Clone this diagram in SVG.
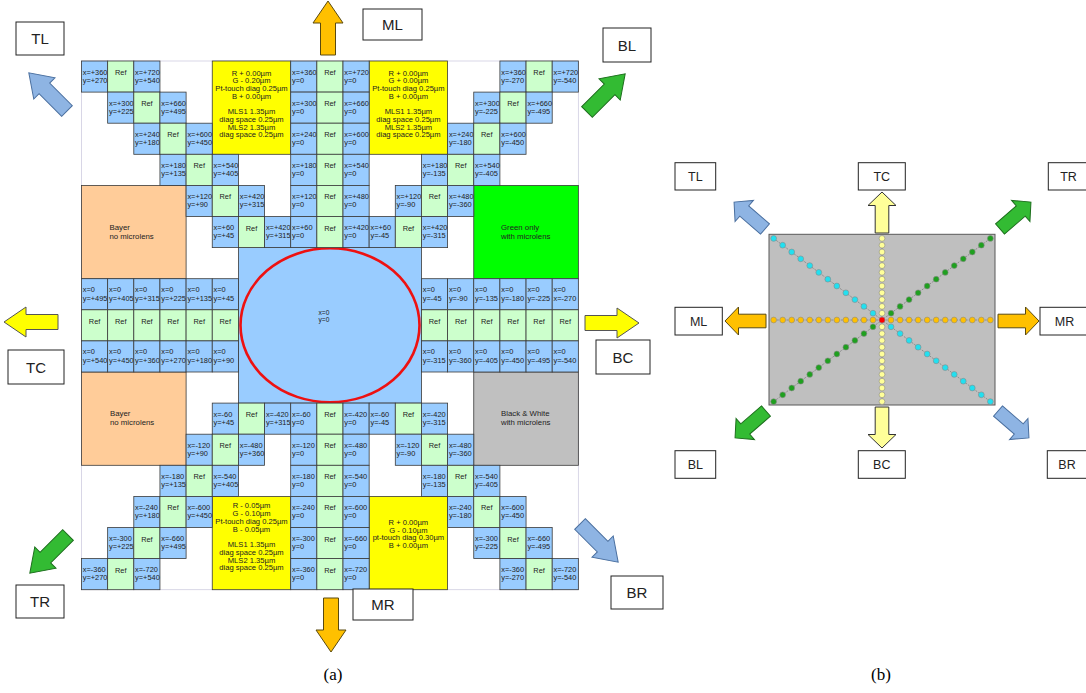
<svg xmlns="http://www.w3.org/2000/svg" xmlns:xlink="http://www.w3.org/1999/xlink" width="1086" height="693" viewBox="0 0 1086 693">
<style>
.b{fill:#99CCFF;stroke:#3a3a3a;stroke-width:0.8}
.g{fill:#CCFFCC;stroke:#3a3a3a;stroke-width:0.8}
.y{fill:#FFFF00;stroke:#3a3a3a;stroke-width:0.8}
.o{fill:#FFCC99;stroke:#3a3a3a;stroke-width:0.8}
.gr{fill:#00FF00;stroke:#3a3a3a;stroke-width:0.8}
.gy{fill:#C0C0C0;stroke:#3a3a3a;stroke-width:0.8}
.t{font-family:"Liberation Sans",Arial,sans-serif;font-size:7.4px;fill:#222}
.r{font-family:"Liberation Sans",Arial,sans-serif;font-size:7.4px;fill:#222;text-anchor:middle}
.yt{font-family:"Liberation Sans",Arial,sans-serif;font-size:7.6px;fill:#222;text-anchor:middle}
.lb{fill:#fff;stroke:#222;stroke-width:1}
.lt{font-family:"Liberation Sans",Arial,sans-serif;font-size:15px;fill:#222;text-anchor:middle}
.lt2{font-family:"Liberation Sans",Arial,sans-serif;font-size:12.5px;fill:#222;text-anchor:middle}
.cap{font-family:"Liberation Serif","Times New Roman",serif;font-size:17px;fill:#000;text-anchor:middle}
.aB{fill:#8EB4E3;stroke:#4a6f9f;stroke-width:1}
.aG{fill:#33BB33;stroke:#1d6e1d;stroke-width:1}
.aO{fill:#FFC000;stroke:#5a4a10;stroke-width:1}
.aY{fill:#FFFF00;stroke:#555;stroke-width:1}
.aPY{fill:#FFFF99;stroke:#333;stroke-width:1}
.dl{stroke:#808080;stroke-width:0.8;stroke-dasharray:2 1.2;fill:none}
.dO{fill:#FFC000;stroke:#8a8a8a;stroke-width:0.6}
.dY{fill:#FFFF99;stroke:#8a8a8a;stroke-width:0.6}
.dC{fill:#22E0F0;stroke:#8a8a8a;stroke-width:0.6}
.dG{fill:#1FA01F;stroke:#8a8a8a;stroke-width:0.6}
</style>
<defs>
<polygon id="arA" points="0,-7.5 32,-7.5 32,-15 54,0 32,15 32,7.5 0,7.5"/>
<polygon id="arB" points="0,-6.8 27.5,-6.8 27.5,-14 41,0 27.5,14 27.5,6.8 0,6.8"/>
</defs>
<rect width="1086" height="693" fill="#fff"/>
<rect x="81.5" y="61" width="496.85" height="528.7" fill="none" stroke="#cfcde0" stroke-width="0.8"/>

<!-- big blocks -->
<g id="yellowTL"><rect class="y" x="212.25" y="61" width="78.45" height="93.3"/>
<text class="yt"><tspan x="251.5" y="75.7">R + 0.00µm</tspan><tspan x="251.5" y="83.4">G - 0.20µm</tspan><tspan x="251.5" y="91.1">Pt-touch diag 0.25µm</tspan><tspan x="251.5" y="98.8">B + 0.00µm</tspan><tspan x="251.5" y="114.2">MLS1 1.35µm</tspan><tspan x="251.5" y="121.9">diag space  0.25µm</tspan><tspan x="251.5" y="129.6">MLS2 1.35µm</tspan><tspan x="251.5" y="137.3">diag space  0.25µm</tspan></text></g>
<g id="yellowTR"><rect class="y" x="369.15" y="61" width="78.45" height="93.3"/>
<text class="yt"><tspan x="408.4" y="75.7">R + 0.00µm</tspan><tspan x="408.4" y="83.4">G + 0.00µm</tspan><tspan x="408.4" y="91.1">Pt-touch diag 0.25µm</tspan><tspan x="408.4" y="98.8">B + 0.00µm</tspan><tspan x="408.4" y="114.2">MLS1 1.35µm</tspan><tspan x="408.4" y="121.9">diag space  0.25µm</tspan><tspan x="408.4" y="129.6">MLS2 1.35µm</tspan><tspan x="408.4" y="137.3">diag space  0.25µm</tspan></text></g>
<g id="yellowBL"><rect class="y" x="212.25" y="496.4" width="78.45" height="93.3"/>
<text class="yt"><tspan x="251.5" y="508.4">R - 0.05µm</tspan><tspan x="251.5" y="516.2">G - 0.10µm</tspan><tspan x="251.5" y="524">Pt-touch diag 0.25µm</tspan><tspan x="251.5" y="531.8">B - 0.05µm</tspan><tspan x="251.5" y="547">MLS1 1.35µm</tspan><tspan x="251.5" y="554.8">diag space  0.25µm</tspan><tspan x="251.5" y="562.6">MLS2 1.35µm</tspan><tspan x="251.5" y="570.4">diag space  0.25µm</tspan></text></g>
<g id="yellowBR"><rect class="y" x="369.15" y="496.4" width="78.45" height="93.3"/>
<text class="yt"><tspan x="408.4" y="524.8">R + 0.00µm</tspan><tspan x="408.4" y="532.5">G - 0.10µm</tspan><tspan x="408.4" y="540.2">pt-touch diag 0.30µm</tspan><tspan x="408.4" y="547.9">B + 0.00µm</tspan></text></g>
<g id="bayerTop"><rect class="o" x="81.5" y="185.4" width="104.6" height="93.3"/>
<text class="t" style="font-size:7.8px"><tspan x="109.5" y="229.5">Bayer</tspan><tspan x="109.5" y="239">no microlens</tspan></text></g>
<g id="greenOnly"><rect class="gr" x="473.75" y="185.4" width="104.6" height="93.3"/>
<text class="t" style="font-size:7.8px"><tspan x="501" y="229.5">Green only</tspan><tspan x="501" y="239">with microlens</tspan></text></g>
<g id="bayerBottom"><rect class="o" x="81.5" y="372" width="104.6" height="93.3"/>
<text class="t" style="font-size:7.8px"><tspan x="110" y="415.5">Bayer</tspan><tspan x="110" y="424.5">no microlens</tspan></text></g>
<g id="bwBlock"><rect class="gy" x="473.75" y="372" width="104.6" height="93.3"/>
<text class="t" style="font-size:7.8px"><tspan x="501" y="415.5">Black &amp; White</tspan><tspan x="501" y="424.5">with microlens</tspan></text></g>
<g id="center"><rect class="b" x="238.4" y="247.6" width="183.05" height="155.5"/>
<ellipse cx="330" cy="325.3" rx="89.5" ry="77" fill="none" stroke="#EE1111" stroke-width="2.6"/>
<text class="t" style="font-size:6.6px"><tspan x="318.5" y="314.5">x=0</tspan><tspan x="318.5" y="322">y=0</tspan></text></g>

<!-- row 0 -->
<g id="r0c0"><rect class="b" x="81.5" y="61" width="26.15" height="31.1"/><text class="t"><tspan x="82.8" y="74.5">x=+360</tspan><tspan x="82.8" y="82.8">y=+270</tspan></text></g>
<g id="r0c1"><rect class="g" x="107.65" y="61" width="26.15" height="31.1"/><text class="r" x="120.7" y="75">Ref</text></g>
<g id="r0c2"><rect class="b" x="133.8" y="61" width="26.15" height="31.1"/><text class="t"><tspan x="135.1" y="74.5">x=+720</tspan><tspan x="135.1" y="82.8">y=+540</tspan></text></g>
<g id="r0c8"><rect class="b" x="290.7" y="61" width="26.15" height="31.1"/><text class="t"><tspan x="292" y="74.5">x=+360</tspan><tspan x="292" y="82.8">y=0</tspan></text></g>
<g id="r0c9"><rect class="g" x="316.85" y="61" width="26.15" height="31.1"/><text class="r" x="329.9" y="75">Ref</text></g>
<g id="r0c10"><rect class="b" x="343" y="61" width="26.15" height="31.1"/><text class="t"><tspan x="344.3" y="74.5">x=+720</tspan><tspan x="344.3" y="82.8">y=0</tspan></text></g>
<g id="r0c16"><rect class="b" x="499.9" y="61" width="26.15" height="31.1"/><text class="t"><tspan x="501.2" y="74.5">x=+360</tspan><tspan x="501.2" y="82.8">y=-270</tspan></text></g>
<g id="r0c17"><rect class="g" x="526.05" y="61" width="26.15" height="31.1"/><text class="r" x="539.1" y="75">Ref</text></g>
<g id="r0c18"><rect class="b" x="552.2" y="61" width="26.15" height="31.1"/><text class="t"><tspan x="553.5" y="74.5">x=+720</tspan><tspan x="553.5" y="82.8">y=-540</tspan></text></g>
<!-- row 1 -->
<g id="r1c1"><rect class="b" x="107.65" y="92.1" width="26.15" height="31.1"/><text class="t"><tspan x="109" y="105.6">x=+300</tspan><tspan x="109" y="113.9">y=+225</tspan></text></g>
<g id="r1c2"><rect class="g" x="133.8" y="92.1" width="26.15" height="31.1"/><text class="r" x="146.9" y="106.1">Ref</text></g>
<g id="r1c3"><rect class="b" x="159.95" y="92.1" width="26.15" height="31.1"/><text class="t"><tspan x="161.3" y="105.6">x=+660</tspan><tspan x="161.3" y="113.9">y=+495</tspan></text></g>
<g id="r1c8"><rect class="b" x="290.7" y="92.1" width="26.15" height="31.1"/><text class="t"><tspan x="292" y="105.6">x=+300</tspan><tspan x="292" y="113.9">y=0</tspan></text></g>
<g id="r1c9"><rect class="g" x="316.85" y="92.1" width="26.15" height="31.1"/><text class="r" x="329.9" y="106.1">Ref</text></g>
<g id="r1c10"><rect class="b" x="343" y="92.1" width="26.15" height="31.1"/><text class="t"><tspan x="344.3" y="105.6">x=+660</tspan><tspan x="344.3" y="113.9">y=0</tspan></text></g>
<g id="r1c15"><rect class="b" x="473.75" y="92.1" width="26.15" height="31.1"/><text class="t"><tspan x="475.1" y="105.6">x=+300</tspan><tspan x="475.1" y="113.9">y=-225</tspan></text></g>
<g id="r1c16"><rect class="g" x="499.9" y="92.1" width="26.15" height="31.1"/><text class="r" x="513" y="106.1">Ref</text></g>
<g id="r1c17"><rect class="b" x="526.05" y="92.1" width="26.15" height="31.1"/><text class="t"><tspan x="527.4" y="105.6">x=+660</tspan><tspan x="527.4" y="113.9">y=-495</tspan></text></g>
<!-- row 2 -->
<g id="r2c2"><rect class="b" x="133.8" y="123.2" width="26.15" height="31.1"/><text class="t"><tspan x="135.1" y="136.7">x=+240</tspan><tspan x="135.1" y="145">y=+180</tspan></text></g>
<g id="r2c3"><rect class="g" x="159.95" y="123.2" width="26.15" height="31.1"/><text class="r" x="173" y="137.2">Ref</text></g>
<g id="r2c4"><rect class="b" x="186.1" y="123.2" width="26.15" height="31.1"/><text class="t"><tspan x="187.4" y="136.7">x=+600</tspan><tspan x="187.4" y="145">y=+450</tspan></text></g>
<g id="r2c8"><rect class="b" x="290.7" y="123.2" width="26.15" height="31.1"/><text class="t"><tspan x="292" y="136.7">x=+240</tspan><tspan x="292" y="145">y=0</tspan></text></g>
<g id="r2c9"><rect class="g" x="316.85" y="123.2" width="26.15" height="31.1"/><text class="r" x="329.9" y="137.2">Ref</text></g>
<g id="r2c10"><rect class="b" x="343" y="123.2" width="26.15" height="31.1"/><text class="t"><tspan x="344.3" y="136.7">x=+600</tspan><tspan x="344.3" y="145">y=0</tspan></text></g>
<g id="r2c14"><rect class="b" x="447.6" y="123.2" width="26.15" height="31.1"/><text class="t"><tspan x="448.9" y="136.7">x=+240</tspan><tspan x="448.9" y="145">y=-180</tspan></text></g>
<g id="r2c15"><rect class="g" x="473.75" y="123.2" width="26.15" height="31.1"/><text class="r" x="486.8" y="137.2">Ref</text></g>
<g id="r2c16"><rect class="b" x="499.9" y="123.2" width="26.15" height="31.1"/><text class="t"><tspan x="501.2" y="136.7">x=+600</tspan><tspan x="501.2" y="145">y=-450</tspan></text></g>
<!-- row 3 -->
<g id="r3c3"><rect class="b" x="159.95" y="154.3" width="26.15" height="31.1"/><text class="t"><tspan x="161.3" y="167.8">x=+180</tspan><tspan x="161.3" y="176.1">y=+135</tspan></text></g>
<g id="r3c4"><rect class="g" x="186.1" y="154.3" width="26.15" height="31.1"/><text class="r" x="199.2" y="168.3">Ref</text></g>
<g id="r3c5"><rect class="b" x="212.25" y="154.3" width="26.15" height="31.1"/><text class="t"><tspan x="213.6" y="167.8">x=+540</tspan><tspan x="213.6" y="176.1">y=+405</tspan></text></g>
<g id="r3c8"><rect class="b" x="290.7" y="154.3" width="26.15" height="31.1"/><text class="t"><tspan x="292" y="167.8">x=+180</tspan><tspan x="292" y="176.1">y=0</tspan></text></g>
<g id="r3c9"><rect class="g" x="316.85" y="154.3" width="26.15" height="31.1"/><text class="r" x="329.9" y="168.3">Ref</text></g>
<g id="r3c10"><rect class="b" x="343" y="154.3" width="26.15" height="31.1"/><text class="t"><tspan x="344.3" y="167.8">x=+540</tspan><tspan x="344.3" y="176.1">y=0</tspan></text></g>
<g id="r3c13"><rect class="b" x="421.45" y="154.3" width="26.15" height="31.1"/><text class="t"><tspan x="422.8" y="167.8">x=+180</tspan><tspan x="422.8" y="176.1">y=-135</tspan></text></g>
<g id="r3c14"><rect class="g" x="447.6" y="154.3" width="26.15" height="31.1"/><text class="r" x="460.7" y="168.3">Ref</text></g>
<g id="r3c15"><rect class="b" x="473.75" y="154.3" width="26.15" height="31.1"/><text class="t"><tspan x="475.1" y="167.8">x=+540</tspan><tspan x="475.1" y="176.1">y=-405</tspan></text></g>
<!-- row 4 -->
<g id="r4c4"><rect class="b" x="186.1" y="185.4" width="26.15" height="31.1"/><text class="t"><tspan x="187.4" y="198.9">x=+120</tspan><tspan x="187.4" y="207.2">y=+90</tspan></text></g>
<g id="r4c5"><rect class="g" x="212.25" y="185.4" width="26.15" height="31.1"/><text class="r" x="225.3" y="199.4">Ref</text></g>
<g id="r4c6"><rect class="b" x="238.4" y="185.4" width="26.15" height="31.1"/><text class="t"><tspan x="239.7" y="198.9">x=+420</tspan><tspan x="239.7" y="207.2">y=+315</tspan></text></g>
<g id="r4c8"><rect class="b" x="290.7" y="185.4" width="26.15" height="31.1"/><text class="t"><tspan x="292" y="198.9">x=+120</tspan><tspan x="292" y="207.2">y=0</tspan></text></g>
<g id="r4c9"><rect class="g" x="316.85" y="185.4" width="26.15" height="31.1"/><text class="r" x="329.9" y="199.4">Ref</text></g>
<g id="r4c10"><rect class="b" x="343" y="185.4" width="26.15" height="31.1"/><text class="t"><tspan x="344.3" y="198.9">x=+480</tspan><tspan x="344.3" y="207.2">y=0</tspan></text></g>
<g id="r4c12"><rect class="b" x="395.3" y="185.4" width="26.15" height="31.1"/><text class="t"><tspan x="396.6" y="198.9">x=+120</tspan><tspan x="396.6" y="207.2">y=-90</tspan></text></g>
<g id="r4c13"><rect class="g" x="421.45" y="185.4" width="26.15" height="31.1"/><text class="r" x="434.5" y="199.4">Ref</text></g>
<g id="r4c14"><rect class="b" x="447.6" y="185.4" width="26.15" height="31.1"/><text class="t"><tspan x="448.9" y="198.9">x=+480</tspan><tspan x="448.9" y="207.2">y=-360</tspan></text></g>
<!-- row 5 -->
<g id="r5c5"><rect class="b" x="212.25" y="216.5" width="26.15" height="31.1"/><text class="t"><tspan x="213.6" y="230">x=+60</tspan><tspan x="213.6" y="238.3">y=+45</tspan></text></g>
<g id="r5c6"><rect class="g" x="238.4" y="216.5" width="26.15" height="31.1"/><text class="r" x="251.5" y="230.5">Ref</text></g>
<g id="r5c7"><rect class="b" x="264.55" y="216.5" width="26.15" height="31.1"/><text class="t"><tspan x="265.9" y="230">x=+420</tspan><tspan x="265.9" y="238.3">y=+315</tspan></text></g>
<g id="r5c8"><rect class="b" x="290.7" y="216.5" width="26.15" height="31.1"/><text class="t"><tspan x="292" y="230">x=+60</tspan><tspan x="292" y="238.3">y=0</tspan></text></g>
<g id="r5c9"><rect class="g" x="316.85" y="216.5" width="26.15" height="31.1"/><text class="r" x="329.9" y="230.5">Ref</text></g>
<g id="r5c10"><rect class="b" x="343" y="216.5" width="26.15" height="31.1"/><text class="t"><tspan x="344.3" y="230">x=+420</tspan><tspan x="344.3" y="238.3">y=0</tspan></text></g>
<g id="r5c11"><rect class="b" x="369.15" y="216.5" width="26.15" height="31.1"/><text class="t"><tspan x="370.5" y="230">x=+60</tspan><tspan x="370.5" y="238.3">y=-45</tspan></text></g>
<g id="r5c12"><rect class="g" x="395.3" y="216.5" width="26.15" height="31.1"/><text class="r" x="408.4" y="230.5">Ref</text></g>
<g id="r5c13"><rect class="b" x="421.45" y="216.5" width="26.15" height="31.1"/><text class="t"><tspan x="422.8" y="230">x=+420</tspan><tspan x="422.8" y="238.3">y=-315</tspan></text></g>
<!-- row 7 -->
<g id="r7c0"><rect class="b" x="81.5" y="278.7" width="26.15" height="31.1"/><text class="t"><tspan x="82.8" y="292.2">x=0</tspan><tspan x="82.8" y="300.5">y=+495</tspan></text></g>
<g id="r7c1"><rect class="b" x="107.65" y="278.7" width="26.15" height="31.1"/><text class="t"><tspan x="109" y="292.2">x=0</tspan><tspan x="109" y="300.5">y=+405</tspan></text></g>
<g id="r7c2"><rect class="b" x="133.8" y="278.7" width="26.15" height="31.1"/><text class="t"><tspan x="135.1" y="292.2">x=0</tspan><tspan x="135.1" y="300.5">y=+315</tspan></text></g>
<g id="r7c3"><rect class="b" x="159.95" y="278.7" width="26.15" height="31.1"/><text class="t"><tspan x="161.3" y="292.2">x=0</tspan><tspan x="161.3" y="300.5">y=+225</tspan></text></g>
<g id="r7c4"><rect class="b" x="186.1" y="278.7" width="26.15" height="31.1"/><text class="t"><tspan x="187.4" y="292.2">x=0</tspan><tspan x="187.4" y="300.5">y=+135</tspan></text></g>
<g id="r7c5"><rect class="b" x="212.25" y="278.7" width="26.15" height="31.1"/><text class="t"><tspan x="213.6" y="292.2">x=0</tspan><tspan x="213.6" y="300.5">y=+45</tspan></text></g>
<g id="r7c13"><rect class="b" x="421.45" y="278.7" width="26.15" height="31.1"/><text class="t"><tspan x="422.8" y="292.2">x=0</tspan><tspan x="422.8" y="300.5">y=-45</tspan></text></g>
<g id="r7c14"><rect class="b" x="447.6" y="278.7" width="26.15" height="31.1"/><text class="t"><tspan x="448.9" y="292.2">x=0</tspan><tspan x="448.9" y="300.5">y=-90</tspan></text></g>
<g id="r7c15"><rect class="b" x="473.75" y="278.7" width="26.15" height="31.1"/><text class="t"><tspan x="475.1" y="292.2">x=0</tspan><tspan x="475.1" y="300.5">y=-135</tspan></text></g>
<g id="r7c16"><rect class="b" x="499.9" y="278.7" width="26.15" height="31.1"/><text class="t"><tspan x="501.2" y="292.2">x=0</tspan><tspan x="501.2" y="300.5">y=-180</tspan></text></g>
<g id="r7c17"><rect class="b" x="526.05" y="278.7" width="26.15" height="31.1"/><text class="t"><tspan x="527.4" y="292.2">x=0</tspan><tspan x="527.4" y="300.5">y=-225</tspan></text></g>
<g id="r7c18"><rect class="b" x="552.2" y="278.7" width="26.15" height="31.1"/><text class="t"><tspan x="553.5" y="292.2">x=0</tspan><tspan x="553.5" y="300.5">x=-270</tspan></text></g>
<!-- row 8 -->
<g id="r8c0"><rect class="g" x="81.5" y="309.8" width="26.15" height="31.1"/><text class="r" x="94.6" y="323.8">Ref</text></g>
<g id="r8c1"><rect class="g" x="107.65" y="309.8" width="26.15" height="31.1"/><text class="r" x="120.7" y="323.8">Ref</text></g>
<g id="r8c2"><rect class="g" x="133.8" y="309.8" width="26.15" height="31.1"/><text class="r" x="146.9" y="323.8">Ref</text></g>
<g id="r8c3"><rect class="g" x="159.95" y="309.8" width="26.15" height="31.1"/><text class="r" x="173" y="323.8">Ref</text></g>
<g id="r8c4"><rect class="g" x="186.1" y="309.8" width="26.15" height="31.1"/><text class="r" x="199.2" y="323.8">Ref</text></g>
<g id="r8c5"><rect class="g" x="212.25" y="309.8" width="26.15" height="31.1"/><text class="r" x="225.3" y="323.8">Ref</text></g>
<g id="r8c13"><rect class="g" x="421.45" y="309.8" width="26.15" height="31.1"/><text class="r" x="434.5" y="323.8">Ref</text></g>
<g id="r8c14"><rect class="g" x="447.6" y="309.8" width="26.15" height="31.1"/><text class="r" x="460.7" y="323.8">Ref</text></g>
<g id="r8c15"><rect class="g" x="473.75" y="309.8" width="26.15" height="31.1"/><text class="r" x="486.8" y="323.8">Ref</text></g>
<g id="r8c16"><rect class="g" x="499.9" y="309.8" width="26.15" height="31.1"/><text class="r" x="513" y="323.8">Ref</text></g>
<g id="r8c17"><rect class="g" x="526.05" y="309.8" width="26.15" height="31.1"/><text class="r" x="539.1" y="323.8">Ref</text></g>
<g id="r8c18"><rect class="g" x="552.2" y="309.8" width="26.15" height="31.1"/><text class="r" x="565.3" y="323.8">Ref</text></g>
<!-- row 9 -->
<g id="r9c0"><rect class="b" x="81.5" y="340.9" width="26.15" height="31.1"/><text class="t"><tspan x="82.8" y="354.4">x=0</tspan><tspan x="82.8" y="362.7">y=+540</tspan></text></g>
<g id="r9c1"><rect class="b" x="107.65" y="340.9" width="26.15" height="31.1"/><text class="t"><tspan x="109" y="354.4">x=0</tspan><tspan x="109" y="362.7">y=+450</tspan></text></g>
<g id="r9c2"><rect class="b" x="133.8" y="340.9" width="26.15" height="31.1"/><text class="t"><tspan x="135.1" y="354.4">x=0</tspan><tspan x="135.1" y="362.7">y=+360</tspan></text></g>
<g id="r9c3"><rect class="b" x="159.95" y="340.9" width="26.15" height="31.1"/><text class="t"><tspan x="161.3" y="354.4">x=0</tspan><tspan x="161.3" y="362.7">y=+270</tspan></text></g>
<g id="r9c4"><rect class="b" x="186.1" y="340.9" width="26.15" height="31.1"/><text class="t"><tspan x="187.4" y="354.4">x=0</tspan><tspan x="187.4" y="362.7">y=+180</tspan></text></g>
<g id="r9c5"><rect class="b" x="212.25" y="340.9" width="26.15" height="31.1"/><text class="t"><tspan x="213.6" y="354.4">x=0</tspan><tspan x="213.6" y="362.7">y=+90</tspan></text></g>
<g id="r9c13"><rect class="b" x="421.45" y="340.9" width="26.15" height="31.1"/><text class="t"><tspan x="422.8" y="354.4">x=0</tspan><tspan x="422.8" y="362.7">y=-315</tspan></text></g>
<g id="r9c14"><rect class="b" x="447.6" y="340.9" width="26.15" height="31.1"/><text class="t"><tspan x="448.9" y="354.4">x=0</tspan><tspan x="448.9" y="362.7">y=-360</tspan></text></g>
<g id="r9c15"><rect class="b" x="473.75" y="340.9" width="26.15" height="31.1"/><text class="t"><tspan x="475.1" y="354.4">x=0</tspan><tspan x="475.1" y="362.7">y=-405</tspan></text></g>
<g id="r9c16"><rect class="b" x="499.9" y="340.9" width="26.15" height="31.1"/><text class="t"><tspan x="501.2" y="354.4">x=0</tspan><tspan x="501.2" y="362.7">y=-450</tspan></text></g>
<g id="r9c17"><rect class="b" x="526.05" y="340.9" width="26.15" height="31.1"/><text class="t"><tspan x="527.4" y="354.4">x=0</tspan><tspan x="527.4" y="362.7">y=-495</tspan></text></g>
<g id="r9c18"><rect class="b" x="552.2" y="340.9" width="26.15" height="31.1"/><text class="t"><tspan x="553.5" y="354.4">x=0</tspan><tspan x="553.5" y="362.7">y=-540</tspan></text></g>
<!-- row 11 -->
<g id="r11c5"><rect class="b" x="212.25" y="403.1" width="26.15" height="31.1"/><text class="t"><tspan x="213.6" y="416.6">x=-60</tspan><tspan x="213.6" y="424.9">y=+45</tspan></text></g>
<g id="r11c6"><rect class="g" x="238.4" y="403.1" width="26.15" height="31.1"/><text class="r" x="251.5" y="417.1">Ref</text></g>
<g id="r11c7"><rect class="b" x="264.55" y="403.1" width="26.15" height="31.1"/><text class="t"><tspan x="265.9" y="416.6">x=-420</tspan><tspan x="265.9" y="424.9">y=+315</tspan></text></g>
<g id="r11c8"><rect class="b" x="290.7" y="403.1" width="26.15" height="31.1"/><text class="t"><tspan x="292" y="416.6">x=-60</tspan><tspan x="292" y="424.9">y=0</tspan></text></g>
<g id="r11c9"><rect class="g" x="316.85" y="403.1" width="26.15" height="31.1"/><text class="r" x="329.9" y="417.1">Ref</text></g>
<g id="r11c10"><rect class="b" x="343" y="403.1" width="26.15" height="31.1"/><text class="t"><tspan x="344.3" y="416.6">x=-420</tspan><tspan x="344.3" y="424.9">y=0</tspan></text></g>
<g id="r11c11"><rect class="b" x="369.15" y="403.1" width="26.15" height="31.1"/><text class="t"><tspan x="370.5" y="416.6">x=-60</tspan><tspan x="370.5" y="424.9">y=-45</tspan></text></g>
<g id="r11c12"><rect class="g" x="395.3" y="403.1" width="26.15" height="31.1"/><text class="r" x="408.4" y="417.1">Ref</text></g>
<g id="r11c13"><rect class="b" x="421.45" y="403.1" width="26.15" height="31.1"/><text class="t"><tspan x="422.8" y="416.6">x=-420</tspan><tspan x="422.8" y="424.9">y=-315</tspan></text></g>
<!-- row 12 -->
<g id="r12c4"><rect class="b" x="186.1" y="434.2" width="26.15" height="31.1"/><text class="t"><tspan x="187.4" y="447.7">x=-120</tspan><tspan x="187.4" y="456">y=+90</tspan></text></g>
<g id="r12c5"><rect class="g" x="212.25" y="434.2" width="26.15" height="31.1"/><text class="r" x="225.3" y="448.2">Ref</text></g>
<g id="r12c6"><rect class="b" x="238.4" y="434.2" width="26.15" height="31.1"/><text class="t"><tspan x="239.7" y="447.7">x=-480</tspan><tspan x="239.7" y="456">y=+360</tspan></text></g>
<g id="r12c8"><rect class="b" x="290.7" y="434.2" width="26.15" height="31.1"/><text class="t"><tspan x="292" y="447.7">x=-120</tspan><tspan x="292" y="456">y=0</tspan></text></g>
<g id="r12c9"><rect class="g" x="316.85" y="434.2" width="26.15" height="31.1"/><text class="r" x="329.9" y="448.2">Ref</text></g>
<g id="r12c10"><rect class="b" x="343" y="434.2" width="26.15" height="31.1"/><text class="t"><tspan x="344.3" y="447.7">x=-480</tspan><tspan x="344.3" y="456">y=0</tspan></text></g>
<g id="r12c12"><rect class="b" x="395.3" y="434.2" width="26.15" height="31.1"/><text class="t"><tspan x="396.6" y="447.7">x=-120</tspan><tspan x="396.6" y="456">y=-90</tspan></text></g>
<g id="r12c13"><rect class="g" x="421.45" y="434.2" width="26.15" height="31.1"/><text class="r" x="434.5" y="448.2">Ref</text></g>
<g id="r12c14"><rect class="b" x="447.6" y="434.2" width="26.15" height="31.1"/><text class="t"><tspan x="448.9" y="447.7">x=-480</tspan><tspan x="448.9" y="456">y=-360</tspan></text></g>
<!-- row 13 -->
<g id="r13c3"><rect class="b" x="159.95" y="465.3" width="26.15" height="31.1"/><text class="t"><tspan x="161.3" y="478.8">x=-180</tspan><tspan x="161.3" y="487.1">y=+135</tspan></text></g>
<g id="r13c4"><rect class="g" x="186.1" y="465.3" width="26.15" height="31.1"/><text class="r" x="199.2" y="479.3">Ref</text></g>
<g id="r13c5"><rect class="b" x="212.25" y="465.3" width="26.15" height="31.1"/><text class="t"><tspan x="213.6" y="478.8">x=-540</tspan><tspan x="213.6" y="487.1">y=+405</tspan></text></g>
<g id="r13c8"><rect class="b" x="290.7" y="465.3" width="26.15" height="31.1"/><text class="t"><tspan x="292" y="478.8">x=-180</tspan><tspan x="292" y="487.1">y=0</tspan></text></g>
<g id="r13c9"><rect class="g" x="316.85" y="465.3" width="26.15" height="31.1"/><text class="r" x="329.9" y="479.3">Ref</text></g>
<g id="r13c10"><rect class="b" x="343" y="465.3" width="26.15" height="31.1"/><text class="t"><tspan x="344.3" y="478.8">x=-540</tspan><tspan x="344.3" y="487.1">y=0</tspan></text></g>
<g id="r13c13"><rect class="b" x="421.45" y="465.3" width="26.15" height="31.1"/><text class="t"><tspan x="422.8" y="478.8">x=-180</tspan><tspan x="422.8" y="487.1">y=-135</tspan></text></g>
<g id="r13c14"><rect class="g" x="447.6" y="465.3" width="26.15" height="31.1"/><text class="r" x="460.7" y="479.3">Ref</text></g>
<g id="r13c15"><rect class="b" x="473.75" y="465.3" width="26.15" height="31.1"/><text class="t"><tspan x="475.1" y="478.8">x=-540</tspan><tspan x="475.1" y="487.1">y=-405</tspan></text></g>
<!-- row 14 -->
<g id="r14c2"><rect class="b" x="133.8" y="496.4" width="26.15" height="31.1"/><text class="t"><tspan x="135.1" y="509.9">x=-240</tspan><tspan x="135.1" y="518.2">y=+180</tspan></text></g>
<g id="r14c3"><rect class="g" x="159.95" y="496.4" width="26.15" height="31.1"/><text class="r" x="173" y="510.4">Ref</text></g>
<g id="r14c4"><rect class="b" x="186.1" y="496.4" width="26.15" height="31.1"/><text class="t"><tspan x="187.4" y="509.9">x=-600</tspan><tspan x="187.4" y="518.2">y=+450</tspan></text></g>
<g id="r14c8"><rect class="b" x="290.7" y="496.4" width="26.15" height="31.1"/><text class="t"><tspan x="292" y="509.9">x=-240</tspan><tspan x="292" y="518.2">y=0</tspan></text></g>
<g id="r14c9"><rect class="g" x="316.85" y="496.4" width="26.15" height="31.1"/><text class="r" x="329.9" y="510.4">Ref</text></g>
<g id="r14c10"><rect class="b" x="343" y="496.4" width="26.15" height="31.1"/><text class="t"><tspan x="344.3" y="509.9">x=-600</tspan><tspan x="344.3" y="518.2">y=0</tspan></text></g>
<g id="r14c14"><rect class="b" x="447.6" y="496.4" width="26.15" height="31.1"/><text class="t"><tspan x="448.9" y="509.9">x=-240</tspan><tspan x="448.9" y="518.2">y=-180</tspan></text></g>
<g id="r14c15"><rect class="g" x="473.75" y="496.4" width="26.15" height="31.1"/><text class="r" x="486.8" y="510.4">Ref</text></g>
<g id="r14c16"><rect class="b" x="499.9" y="496.4" width="26.15" height="31.1"/><text class="t"><tspan x="501.2" y="509.9">x=-600</tspan><tspan x="501.2" y="518.2">y=-450</tspan></text></g>
<!-- row 15 -->
<g id="r15c1"><rect class="b" x="107.65" y="527.5" width="26.15" height="31.1"/><text class="t"><tspan x="109" y="541">x=-300</tspan><tspan x="109" y="549.3">y=+225</tspan></text></g>
<g id="r15c2"><rect class="g" x="133.8" y="527.5" width="26.15" height="31.1"/><text class="r" x="146.9" y="541.5">Ref</text></g>
<g id="r15c3"><rect class="b" x="159.95" y="527.5" width="26.15" height="31.1"/><text class="t"><tspan x="161.3" y="541">x=-660</tspan><tspan x="161.3" y="549.3">y=+495</tspan></text></g>
<g id="r15c8"><rect class="b" x="290.7" y="527.5" width="26.15" height="31.1"/><text class="t"><tspan x="292" y="541">x=-300</tspan><tspan x="292" y="549.3">y=0</tspan></text></g>
<g id="r15c9"><rect class="g" x="316.85" y="527.5" width="26.15" height="31.1"/><text class="r" x="329.9" y="541.5">Ref</text></g>
<g id="r15c10"><rect class="b" x="343" y="527.5" width="26.15" height="31.1"/><text class="t"><tspan x="344.3" y="541">x=-660</tspan><tspan x="344.3" y="549.3">y=0</tspan></text></g>
<g id="r15c15"><rect class="b" x="473.75" y="527.5" width="26.15" height="31.1"/><text class="t"><tspan x="475.1" y="541">x=-300</tspan><tspan x="475.1" y="549.3">y=-225</tspan></text></g>
<g id="r15c16"><rect class="g" x="499.9" y="527.5" width="26.15" height="31.1"/><text class="r" x="513" y="541.5">Ref</text></g>
<g id="r15c17"><rect class="b" x="526.05" y="527.5" width="26.15" height="31.1"/><text class="t"><tspan x="527.4" y="541">x=-660</tspan><tspan x="527.4" y="549.3">y=-495</tspan></text></g>
<!-- row 16 -->
<g id="r16c0"><rect class="b" x="81.5" y="558.6" width="26.15" height="31.1"/><text class="t"><tspan x="82.8" y="572.1">x=-360</tspan><tspan x="82.8" y="580.4">y=+270</tspan></text></g>
<g id="r16c1"><rect class="g" x="107.65" y="558.6" width="26.15" height="31.1"/><text class="r" x="120.7" y="572.6">Ref</text></g>
<g id="r16c2"><rect class="b" x="133.8" y="558.6" width="26.15" height="31.1"/><text class="t"><tspan x="135.1" y="572.1">x=-720</tspan><tspan x="135.1" y="580.4">y=+540</tspan></text></g>
<g id="r16c8"><rect class="b" x="290.7" y="558.6" width="26.15" height="31.1"/><text class="t"><tspan x="292" y="572.1">x=-360</tspan><tspan x="292" y="580.4">y=0</tspan></text></g>
<g id="r16c9"><rect class="g" x="316.85" y="558.6" width="26.15" height="31.1"/><text class="r" x="329.9" y="572.6">Ref</text></g>
<g id="r16c10"><rect class="b" x="343" y="558.6" width="26.15" height="31.1"/><text class="t"><tspan x="344.3" y="572.1">x=-720</tspan><tspan x="344.3" y="580.4">y=0</tspan></text></g>
<g id="r16c16"><rect class="b" x="499.9" y="558.6" width="26.15" height="31.1"/><text class="t"><tspan x="501.2" y="572.1">x=-360</tspan><tspan x="501.2" y="580.4">y=-270</tspan></text></g>
<g id="r16c17"><rect class="g" x="526.05" y="558.6" width="26.15" height="31.1"/><text class="r" x="539.1" y="572.6">Ref</text></g>
<g id="r16c18"><rect class="b" x="552.2" y="558.6" width="26.15" height="31.1"/><text class="t"><tspan x="553.5" y="572.1">x=-720</tspan><tspan x="553.5" y="580.4">y=-540</tspan></text></g>

<!-- panel (a) arrows -->
<g id="arrowsA">
<use href="#arA" class="aB" transform="translate(67,111) rotate(-135)"/>
<use href="#arA" class="aO" transform="translate(328,55) rotate(-90)"/>
<use href="#arA" class="aG" transform="translate(587,112) rotate(-45)"/>
<use href="#arA" class="aY" transform="translate(58,322) rotate(180)"/>
<use href="#arA" class="aY" transform="translate(585,323)"/>
<use href="#arA" class="aG" transform="translate(68,535) rotate(135)"/>
<use href="#arA" class="aO" transform="translate(331,598) rotate(90)"/>
<use href="#arA" class="aB" transform="translate(580,524) rotate(45)"/>
</g>
<!-- panel (a) labels -->
<g id="labA_TL"><rect class="lb" x="16" y="22" width="48" height="33"/><text class="lt" x="40" y="44">TL</text></g>
<g id="labA_ML"><rect class="lb" x="363" y="9" width="59" height="31"/><text class="lt" x="392.5" y="30">ML</text></g>
<g id="labA_BL"><rect class="lb" x="603" y="28" width="48" height="34"/><text class="lt" x="627" y="50.5">BL</text></g>
<g id="labA_TC"><rect class="lb" x="8" y="350" width="56" height="34"/><text class="lt" x="36" y="372.5">TC</text></g>
<g id="labA_BC"><rect class="lb" x="596" y="340" width="54" height="34"/><text class="lt" x="623" y="362.5">BC</text></g>
<g id="labA_TR"><rect class="lb" x="16" y="585" width="48" height="33"/><text class="lt" x="40" y="607">TR</text></g>
<g id="labA_MR"><rect class="lb" x="353" y="589" width="60" height="31"/><text class="lt" x="383" y="610">MR</text></g>
<g id="labA_BR"><rect class="lb" x="611" y="576" width="52" height="33"/><text class="lt" x="637" y="598">BR</text></g>

<!-- panel (b) -->
<g id="sensor">
<rect x="769" y="234.3" width="226" height="170.7" fill="#BFBFBF" stroke="#595959" stroke-width="1"/>
<line class="dl" x1="773.6" y1="320" x2="990.4" y2="320"/>
<line class="dl" x1="882" y1="238.4" x2="882" y2="401.6"/>
<line class="dl" x1="773.6" y1="238.4" x2="990.4" y2="401.6"/>
<line class="dl" x1="773.6" y1="401.6" x2="990.4" y2="238.4"/>
<g class="dO">
<circle cx="773.64" cy="320" r="2.9"/><circle cx="782.67" cy="320" r="2.9"/><circle cx="791.7" cy="320" r="2.9"/><circle cx="800.73" cy="320" r="2.9"/><circle cx="809.76" cy="320" r="2.9"/><circle cx="818.79" cy="320" r="2.9"/><circle cx="827.82" cy="320" r="2.9"/><circle cx="836.85" cy="320" r="2.9"/><circle cx="845.88" cy="320" r="2.9"/><circle cx="854.91" cy="320" r="2.9"/><circle cx="863.94" cy="320" r="2.9"/><circle cx="872.97" cy="320" r="2.9"/>
<circle cx="891.03" cy="320" r="2.9"/><circle cx="900.06" cy="320" r="2.9"/><circle cx="909.09" cy="320" r="2.9"/><circle cx="918.12" cy="320" r="2.9"/><circle cx="927.15" cy="320" r="2.9"/><circle cx="936.18" cy="320" r="2.9"/><circle cx="945.21" cy="320" r="2.9"/><circle cx="954.24" cy="320" r="2.9"/><circle cx="963.27" cy="320" r="2.9"/><circle cx="972.3" cy="320" r="2.9"/><circle cx="981.33" cy="320" r="2.9"/><circle cx="990.36" cy="320" r="2.9"/>
</g>
<g class="dY">
<circle cx="882" cy="238.4" r="2.9"/><circle cx="882" cy="245.2" r="2.9"/><circle cx="882" cy="252" r="2.9"/><circle cx="882" cy="258.8" r="2.9"/><circle cx="882" cy="265.6" r="2.9"/><circle cx="882" cy="272.4" r="2.9"/><circle cx="882" cy="279.2" r="2.9"/><circle cx="882" cy="286" r="2.9"/><circle cx="882" cy="292.8" r="2.9"/><circle cx="882" cy="299.6" r="2.9"/><circle cx="882" cy="306.4" r="2.9"/><circle cx="882" cy="313.2" r="2.9"/>
<circle cx="882" cy="326.8" r="2.9"/><circle cx="882" cy="333.6" r="2.9"/><circle cx="882" cy="340.4" r="2.9"/><circle cx="882" cy="347.2" r="2.9"/><circle cx="882" cy="354" r="2.9"/><circle cx="882" cy="360.8" r="2.9"/><circle cx="882" cy="367.6" r="2.9"/><circle cx="882" cy="374.4" r="2.9"/><circle cx="882" cy="381.2" r="2.9"/><circle cx="882" cy="388" r="2.9"/><circle cx="882" cy="394.8" r="2.9"/><circle cx="882" cy="401.6" r="2.9"/>
</g>
<g class="dC">
<circle cx="773.64" cy="238.4" r="2.9"/><circle cx="782.67" cy="245.2" r="2.9"/><circle cx="791.7" cy="252" r="2.9"/><circle cx="800.73" cy="258.8" r="2.9"/><circle cx="809.76" cy="265.6" r="2.9"/><circle cx="818.79" cy="272.4" r="2.9"/><circle cx="827.82" cy="279.2" r="2.9"/><circle cx="836.85" cy="286" r="2.9"/><circle cx="845.88" cy="292.8" r="2.9"/><circle cx="854.91" cy="299.6" r="2.9"/><circle cx="863.94" cy="306.4" r="2.9"/><circle cx="872.97" cy="313.2" r="2.9"/>
<circle cx="891.03" cy="326.8" r="2.9"/><circle cx="900.06" cy="333.6" r="2.9"/><circle cx="909.09" cy="340.4" r="2.9"/><circle cx="918.12" cy="347.2" r="2.9"/><circle cx="927.15" cy="354" r="2.9"/><circle cx="936.18" cy="360.8" r="2.9"/><circle cx="945.21" cy="367.6" r="2.9"/><circle cx="954.24" cy="374.4" r="2.9"/><circle cx="963.27" cy="381.2" r="2.9"/><circle cx="972.3" cy="388" r="2.9"/><circle cx="981.33" cy="394.8" r="2.9"/><circle cx="990.36" cy="401.6" r="2.9"/>
</g>
<g class="dG">
<circle cx="773.64" cy="401.6" r="2.9"/><circle cx="782.67" cy="394.8" r="2.9"/><circle cx="791.7" cy="388" r="2.9"/><circle cx="800.73" cy="381.2" r="2.9"/><circle cx="809.76" cy="374.4" r="2.9"/><circle cx="818.79" cy="367.6" r="2.9"/><circle cx="827.82" cy="360.8" r="2.9"/><circle cx="836.85" cy="354" r="2.9"/><circle cx="845.88" cy="347.2" r="2.9"/><circle cx="854.91" cy="340.4" r="2.9"/><circle cx="863.94" cy="333.6" r="2.9"/><circle cx="872.97" cy="326.8" r="2.9"/>
<circle cx="891.03" cy="313.2" r="2.9"/><circle cx="900.06" cy="306.4" r="2.9"/><circle cx="909.09" cy="299.6" r="2.9"/><circle cx="918.12" cy="292.8" r="2.9"/><circle cx="927.15" cy="286" r="2.9"/><circle cx="936.18" cy="279.2" r="2.9"/><circle cx="945.21" cy="272.4" r="2.9"/><circle cx="954.24" cy="265.6" r="2.9"/><circle cx="963.27" cy="258.8" r="2.9"/><circle cx="972.3" cy="252" r="2.9"/><circle cx="981.33" cy="245.2" r="2.9"/><circle cx="990.36" cy="238.4" r="2.9"/>
</g>
<circle cx="882" cy="320" r="3" fill="#FF0000" stroke="#8a8a8a" stroke-width="0.6"/>
</g>
<g id="arrowsB">
<use href="#arB" class="aB" transform="translate(765,229) rotate(-139)"/>
<use href="#arB" class="aPY" transform="translate(882,233) rotate(-90)"/>
<use href="#arB" class="aG" transform="translate(1000,229) rotate(-41)"/>
<use href="#arB" class="aO" transform="translate(766,321) rotate(180)"/>
<use href="#arB" class="aO" transform="translate(998,321)"/>
<use href="#arB" class="aG" transform="translate(766,411) rotate(139)"/>
<use href="#arB" class="aPY" transform="translate(882,407) rotate(90)"/>
<use href="#arB" class="aB" transform="translate(998,411) rotate(41)"/>
</g>
<g id="labB_TL"><rect class="lb" x="675" y="162.7" width="40.7" height="27.3"/><text class="lt2" x="695.3" y="181">TL</text></g>
<g id="labB_TC"><rect class="lb" x="858.3" y="162.7" width="47" height="27.3"/><text class="lt2" x="881.8" y="181">TC</text></g>
<g id="labB_TR"><rect class="lb" x="1048.3" y="162.7" width="40" height="27.3"/><text class="lt2" x="1068.5" y="181">TR</text></g>
<g id="labB_ML"><rect class="lb" x="675" y="307.3" width="47.3" height="27.7"/><text class="lt2" x="698.6" y="325.7">ML</text></g>
<g id="labB_MR"><rect class="lb" x="1040" y="307.3" width="48" height="27.7"/><text class="lt2" x="1064.5" y="325.7">MR</text></g>
<g id="labB_BL"><rect class="lb" x="675" y="450.7" width="40.7" height="27.6"/><text class="lt2" x="695.3" y="469">BL</text></g>
<g id="labB_BC"><rect class="lb" x="858.3" y="450.7" width="47" height="27.6"/><text class="lt2" x="881.8" y="469">BC</text></g>
<g id="labB_BR"><rect class="lb" x="1047.3" y="450.7" width="41" height="27.6"/><text class="lt2" x="1067" y="469">BR</text></g>

<text class="cap" x="333" y="680">(a)</text>
<text class="cap" x="881" y="680">(b)</text>
</svg>
